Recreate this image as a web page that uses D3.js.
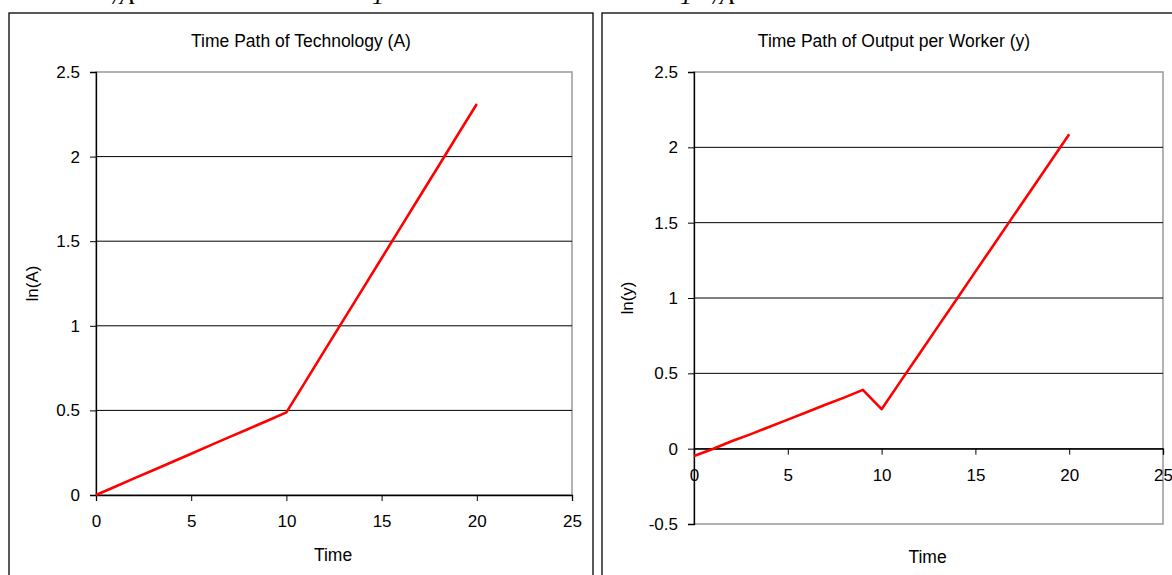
<!DOCTYPE html>
<html>
<head>
<meta charset="utf-8">
<script src="https://cdn.jsdelivr.net/npm/d3@7"></script>
<style>
  html, body { margin: 0; padding: 0; background: #fff; }
  svg text { font-family: "Liberation Sans", Arial, sans-serif; fill: #000; }
</style>
</head>
<body>
<svg id="canvas" width="1172" height="575"></svg>
<script>
/* ---------- data ---------- */
const years = [0,1,2,3,4,5,6,7,8,9,10,11,12,13,14,15,16,17,18,19,20];
const lnA   = [0,0.049,0.098,0.146,0.195,0.244,0.293,0.342,0.390,0.439,0.488,
               0.670,0.853,1.035,1.217,1.399,1.582,1.764,1.946,2.129,2.311];
const lnY   = [-0.049,-0.002,0.049,0.095,0.144,0.193,0.242,0.291,0.339,0.390,0.262,
               0.445,0.627,0.810,0.992,1.175,1.357,1.540,1.722,1.905,2.087];
const xTicks  = [0,5,10,15,20,25];
const yTicksA = [0,0.5,1,1.5,2,2.5];
const yTicksY = [-0.5,0,0.5,1,1.5,2,2.5];

const svg = d3.select("#canvas");
const FONT = 17;
const fmt = d => String(d);   // plain hyphen for negatives, like the original

/* cut-off formula glyphs above the charts */
[[113,"/A"],[372,"1"],[680,"1"],[713,"/A"]].forEach(([x,t])=>{
  svg.append("text").attr("x",x).attr("y",4)
     .style("font-family","'Liberation Serif', serif").style("font-style","italic")
     .style("font-size","24px").text(t);
});

/* ---------- one chart panel ---------- */
function panel(o){
  const g = svg.append("g");
  // outer chart frame
  g.append("rect").attr("x",o.frame[0]).attr("y",o.frame[1])
   .attr("width",o.frame[2]).attr("height",o.frame[3])
   .attr("fill","#fff").attr("stroke","#000").attr("stroke-width",1.3);

  const x = d3.scaleLinear().domain([0,25]).range([o.left,o.right]);
  const y = d3.scaleLinear().domain(o.ydom).range([o.bottom,o.top]);

  // plot area border (grey)
  g.append("rect").attr("x",o.left).attr("y",o.top)
   .attr("width",o.right-o.left).attr("height",o.bottom-o.top)
   .attr("fill","none").attr("stroke","#999").attr("stroke-width",1.5);

  // gridlines
  g.append("g").selectAll("line")
   .data(o.yticks.filter(v=>v!==o.ydom[0] && v!==o.ydom[1]))
   .join("line")
   .attr("x1",o.left).attr("x2",o.right)
   .attr("y1",d=>y(d)).attr("y2",d=>y(d))
   .attr("stroke","#000").attr("stroke-width",1);

  // y axis
  const ya = g.append("g").attr("transform",`translate(${o.left},0)`)
    .call(d3.axisLeft(y).tickValues(o.yticks).tickSize(6).tickPadding(10)
      .tickFormat(fmt));
  ya.select(".domain").attr("stroke","#000").attr("stroke-width",1.3);
  ya.selectAll(".tick line").attr("stroke","#000");
  ya.selectAll("text").style("font-size",FONT+"px").attr("font-family",null);

  // x axis (crosses at 0)
  const xa = g.append("g").attr("transform",`translate(0,${y(0)})`)
    .call(d3.axisBottom(x).tickValues(xTicks).tickSize(6).tickPadding(o.xpad)
      .tickFormat(fmt));
  xa.select(".domain").attr("stroke","#000").attr("stroke-width",1.3);
  xa.selectAll(".tick line").attr("stroke","#000");
  xa.selectAll("text").style("font-size",FONT+"px").attr("font-family",null);

  // series
  const line = d3.line().x((d,i)=>x(years[i])).y(d=>y(d));
  g.append("path").datum(o.values).attr("d",line)
   .attr("fill","none").attr("stroke","#ff0000").attr("stroke-width",2.6)
   .attr("stroke-linejoin","round");

  // titles
  g.append("text").attr("x",o.titleX).attr("y",47).attr("text-anchor","middle")
   .style("font-size","17.5px").text(o.title);
  g.append("text").attr("x",(o.left+o.right)/2 - 1).attr("y",o.xlabY)
   .attr("text-anchor","middle").style("font-size","17.5px").text("Time");
  g.append("text")
   .attr("transform",`translate(${o.ylabX},${(o.top+o.bottom)/2}) rotate(-90)`)
   .attr("text-anchor","middle").style("font-size","17px").text(o.ylab);
}

panel({
  frame:[9,13,584,600], left:96, right:572, top:72, bottom:495,
  ydom:[0,2.5], yticks:yTicksA, values:lnA, xpad:14,
  title:"Time Path of Technology (A)", titleX:301, xlabY:561,
  ylab:"ln(A)", ylabX:38
});
panel({
  frame:[602,13,600,600], left:694, right:1163, top:72, bottom:524,
  ydom:[-0.5,2.5], yticks:yTicksY, values:lnY, xpad:14,
  title:"Time Path of Output per Worker (y)", titleX:894, xlabY:563,
  ylab:"ln(y)", ylabX:633
});
</script>
</body>
</html>
